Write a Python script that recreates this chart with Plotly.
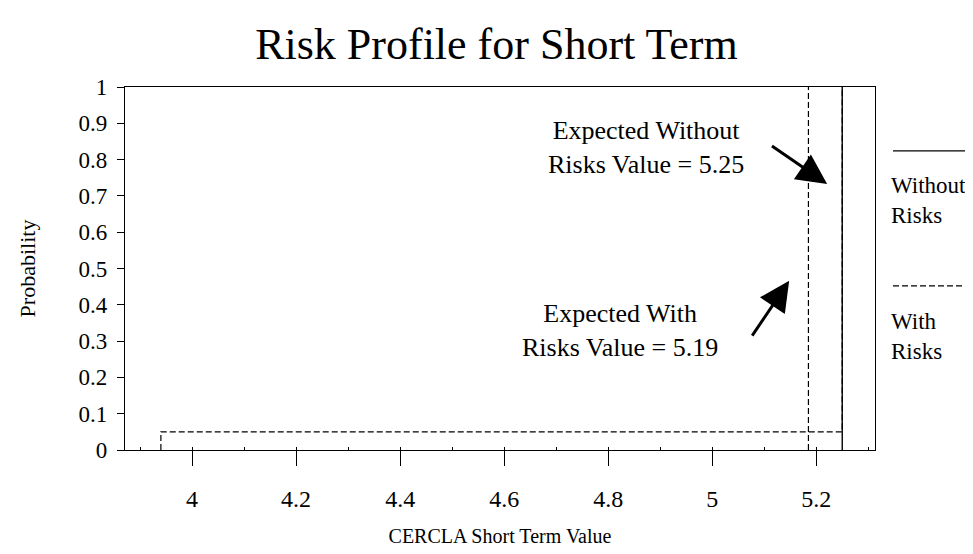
import plotly.graph_objects as go

# Data
with_risk_values = [3.94, 5.25]        # outcomes, With Risks
with_risk_probs = [0.05, 0.95]         # probabilities, With Risks
without_risk_values = [5.25]           # outcome, Without Risks
without_risk_probs = [1.0]
expected_with = 5.185
expected_without = 5.25

x_ticks = [4, 4.2, 4.4, 4.6, 4.8, 5, 5.2]
y_ticks = [0, 0.1, 0.2, 0.3, 0.4, 0.5, 0.6, 0.7, 0.8, 0.9, 1]
y_tick_labels = ["0", "0.1", "0.2", "0.3", "0.4", "0.5", "0.6", "0.7", "0.8", "0.9", "1"]

FONT = "Times New Roman, Liberation Serif, serif"


def step_cdf(values, probs):
    xs, ys = [values[0]], [0.0]
    cum = 0.0
    for v, p in zip(values, probs):
        cum += p
        xs.append(v)
        ys.append(cum)
    return xs, ys


wx, wy = step_cdf(with_risk_values, with_risk_probs)
nx, ny = step_cdf(without_risk_values, without_risk_probs)

fig = go.Figure()
fig.add_trace(go.Scatter(x=wx, y=wy, mode="lines", line_shape="hv",
                         line=dict(color="black", width=1.2, dash="6px,3px"),
                         name="With Risks", showlegend=False))
fig.add_trace(go.Scatter(x=[expected_with, expected_with], y=[0, 1], mode="lines",
                         line=dict(color="black", width=1.2, dash="6px,3px"),
                         showlegend=False))
fig.add_trace(go.Scatter(x=nx, y=ny, mode="lines", line_shape="hv",
                         line=dict(color="black", width=1.4),
                         name="Without Risks", showlegend=False))

# Legend drawn to the right of the plot
fig.add_shape(type="line", xref="paper", yref="paper", x0=1.024, x1=1.15, y0=0.824, y1=0.824,
              line=dict(color="black", width=1.2))
fig.add_shape(type="line", xref="paper", yref="paper", x0=1.024, x1=1.15, y0=0.452, y1=0.452,
              line=dict(color="black", width=1.2, dash="6px,3px"))
fig.add_annotation(xref="paper", yref="paper", x=1.019, y=0.686, xanchor="left", yanchor="middle",
                   text="Without<br>Risks", showarrow=False, align="left",
                   font=dict(family=FONT, size=23, color="black"))
fig.add_annotation(xref="paper", yref="paper", x=1.019, y=0.314, xanchor="left", yanchor="middle",
                   text="With<br>Risks", showarrow=False, align="left",
                   font=dict(family=FONT, size=23, color="black"))

# Callout texts and arrows
fig.add_annotation(x=4.873, y=0.832, text="Expected Without<br>Risks Value = 5.25",
                   showarrow=False, align="center",
                   font=dict(family=FONT, size=26, color="black"))
fig.add_annotation(x=4.823, y=0.328, text="Expected With<br>Risks Value = 5.19",
                   showarrow=False, align="center",
                   font=dict(family=FONT, size=26, color="black"))
fig.add_annotation(x=5.221, y=0.733, ax=5.112, ay=0.840, axref="x", ayref="y",
                   text="", showarrow=True, arrowhead=2, arrowsize=2.0, arrowwidth=3,
                   arrowcolor="black")
fig.add_annotation(x=5.148, y=0.466, ax=5.075, ay=0.311, axref="x", ayref="y",
                   text="", showarrow=True, arrowhead=2, arrowsize=2.0, arrowwidth=3,
                   arrowcolor="black")

fig.update_layout(
    width=973, height=554,
    margin=dict(l=117, r=106, t=79, b=112),
    paper_bgcolor="white", plot_bgcolor="white",
    font=dict(family=FONT, color="black"),
    title=dict(text="Risk Profile for Short Term", x=0.502, xanchor="center",
               y=0.935, yanchor="middle",
               font=dict(family=FONT, size=44, color="black")),
    showlegend=False,
)
fig.update_xaxes(range=[3.871, 5.313], tickvals=x_ticks, ticktext=[str(v) for v in x_ticks],
                 ticks="outside", ticklen=15, tickwidth=1, tickcolor="black",
                 ticklabelstandoff=12,
                 showline=True, linecolor="black", linewidth=1.2, mirror=True,
                 showgrid=False, zeroline=False,
                 tickfont=dict(family=FONT, size=24),
                 minor=dict(dtick=0.1, tick0=0, ticks="inside", ticklen=3, tickcolor="black"),
                 title=dict(text="CERCLA Short Term Value", font=dict(family=FONT, size=20),
                            standoff=18))
fig.update_yaxes(range=[0, 1], tickvals=y_ticks, ticktext=y_tick_labels,
                 ticks="outside", ticklen=7, tickwidth=1, tickcolor="black",
                 ticklabelstandoff=5,
                 showline=True, linecolor="black", linewidth=1.2, mirror=True,
                 showgrid=False, zeroline=False,
                 tickfont=dict(family=FONT, size=23),
                 title=dict(text="Probability", font=dict(family=FONT, size=22), standoff=36))

fig.write_html("out.html")
